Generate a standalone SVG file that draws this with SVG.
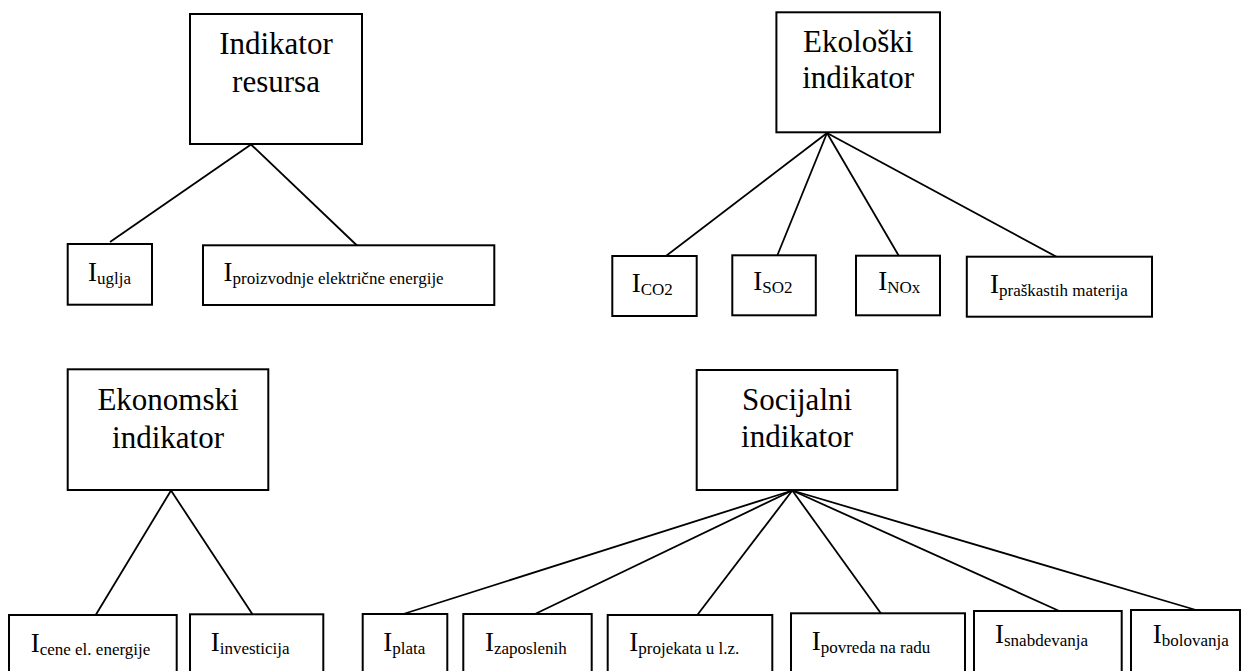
<svg xmlns="http://www.w3.org/2000/svg" width="1241" height="671" viewBox="0 0 1241 671">
  <style>
    .box { fill: #ffffff; stroke: #000000; stroke-width: 2; }
    .edge { stroke: #000000; stroke-width: 1.8; fill: none; }
    text { font-family: 'Liberation Serif', serif; fill: #000000; }
    .title { font-size: 31px; text-anchor: middle; }
    .lbl { font-size: 27px; }
    .sub { font-size: 17px; }
  </style>
  <rect width="1241" height="671" fill="#ffffff"/>

  <!-- connectors -->
  <g id="connectors">
    <!-- Indikator resursa -->
    <line class="edge" x1="251" y1="144.5" x2="110" y2="242"/>
    <line class="edge" x1="251" y1="144.5" x2="357.5" y2="246"/>
    <!-- Ekološki indikator -->
    <line class="edge" x1="827" y1="133" x2="666" y2="256"/>
    <line class="edge" x1="827" y1="133" x2="777.3" y2="255.5"/>
    <line class="edge" x1="827" y1="133" x2="898.9" y2="256"/>
    <line class="edge" x1="827" y1="133" x2="1056.9" y2="257"/>
    <!-- Ekonomski indikator -->
    <line class="edge" x1="171" y1="490.5" x2="95.7" y2="615"/>
    <line class="edge" x1="171" y1="490.5" x2="252.3" y2="614"/>
    <!-- Socijalni indikator -->
    <line class="edge" x1="792.3" y1="490.5" x2="403.3" y2="614"/>
    <line class="edge" x1="792.3" y1="490.5" x2="535" y2="614"/>
    <line class="edge" x1="792.3" y1="490.5" x2="697.3" y2="615"/>
    <line class="edge" x1="792.3" y1="490.5" x2="881" y2="613.5"/>
    <line class="edge" x1="792.3" y1="490.5" x2="1059.3" y2="611"/>
    <line class="edge" x1="792.3" y1="490.5" x2="1196" y2="610"/>
  </g>

  <!-- parent nodes -->
  <g id="indikator-resursa">
    <rect class="box" x="190" y="14" width="172" height="130"/>
    <text class="title" x="276" y="54">Indikator</text>
    <text class="title" x="276" y="92">resursa</text>
  </g>
  <g id="ekoloski-indikator">
    <rect class="box" x="776.4" y="12.3" width="163.6" height="120"/>
    <text class="title" x="858.2" y="51.7">Ekološki</text>
    <text class="title" x="858.2" y="88.3">indikator</text>
  </g>
  <g id="ekonomski-indikator">
    <rect class="box" x="67.7" y="369.3" width="200.6" height="120.7"/>
    <text class="title" x="168" y="410">Ekonomski</text>
    <text class="title" x="168" y="448">indikator</text>
  </g>
  <g id="socijalni-indikator">
    <rect class="box" x="696.7" y="370" width="200.6" height="120"/>
    <text class="title" x="797" y="410">Socijalni</text>
    <text class="title" x="797" y="447">indikator</text>
  </g>

  <!-- resource indicators -->
  <g id="i-uglja">
    <rect class="box" x="67.7" y="244" width="84.3" height="60.7"/>
    <text class="lbl" x="88" y="280.5">I<tspan class="sub" dy="3">uglja</tspan></text>
  </g>
  <g id="i-proizvodnje">
    <rect class="box" x="203" y="245.3" width="291.3" height="59.7"/>
    <text class="lbl" x="223.5" y="281">I<tspan class="sub" dy="3">proizvodnje električne energije</tspan></text>
  </g>

  <!-- ecological indicators -->
  <g id="i-co2">
    <rect class="box" x="612.3" y="256" width="84.4" height="60"/>
    <text class="lbl" x="631.7" y="292">I<tspan class="sub" dy="3">CO2</tspan></text>
  </g>
  <g id="i-so2">
    <rect class="box" x="732.3" y="255.3" width="83.5" height="60"/>
    <text class="lbl" x="753.3" y="290">I<tspan class="sub" dy="3">SO2</tspan></text>
  </g>
  <g id="i-nox">
    <rect class="box" x="856" y="255.7" width="84" height="59.6"/>
    <text class="lbl" x="878.3" y="290">I<tspan class="sub" dy="3">NOx</tspan></text>
  </g>
  <g id="i-praskastih">
    <rect class="box" x="966.8" y="256.7" width="185.2" height="60"/>
    <text class="lbl" x="990" y="293">I<tspan class="sub" dy="3">praškastih materija</tspan></text>
  </g>

  <!-- economic indicators -->
  <g id="i-cene">
    <rect class="box" x="9" y="615" width="167.7" height="70"/>
    <text class="lbl" x="30.7" y="651.5">I<tspan class="sub" dy="3">cene el. energije</tspan></text>
  </g>
  <g id="i-investicija">
    <rect class="box" x="190" y="614.3" width="133.3" height="70"/>
    <text class="lbl" x="210.7" y="650.7">I<tspan class="sub" dy="3">investicija</tspan></text>
  </g>

  <!-- social indicators -->
  <g id="i-plata">
    <rect class="box" x="362.7" y="614" width="84.6" height="70"/>
    <text class="lbl" x="383.3" y="650.7">I<tspan class="sub" dy="3">plata</tspan></text>
  </g>
  <g id="i-zaposlenih">
    <rect class="box" x="463.3" y="614" width="128.4" height="70"/>
    <text class="lbl" x="485" y="650.7">I<tspan class="sub" dy="3">zaposlenih</tspan></text>
  </g>
  <g id="i-projekata">
    <rect class="box" x="607.7" y="615" width="164.6" height="70"/>
    <text class="lbl" x="629.3" y="650.7">I<tspan class="sub" dy="3">projekata u l.z.</tspan></text>
  </g>
  <g id="i-povreda">
    <rect class="box" x="791" y="613.3" width="174" height="70"/>
    <text class="lbl" x="811.7" y="650">I<tspan class="sub" dy="3">povreda na radu</tspan></text>
  </g>
  <g id="i-snabdevanja">
    <rect class="box" x="974" y="611" width="147.7" height="70"/>
    <text class="lbl" x="995" y="643.3">I<tspan class="sub" dy="3">snabdevanja</tspan></text>
  </g>
  <g id="i-bolovanja">
    <rect class="box" x="1131" y="610" width="109" height="70"/>
    <text class="lbl" x="1152.7" y="643.3">I<tspan class="sub" dy="3">bolovanja</tspan></text>
  </g>
</svg>
